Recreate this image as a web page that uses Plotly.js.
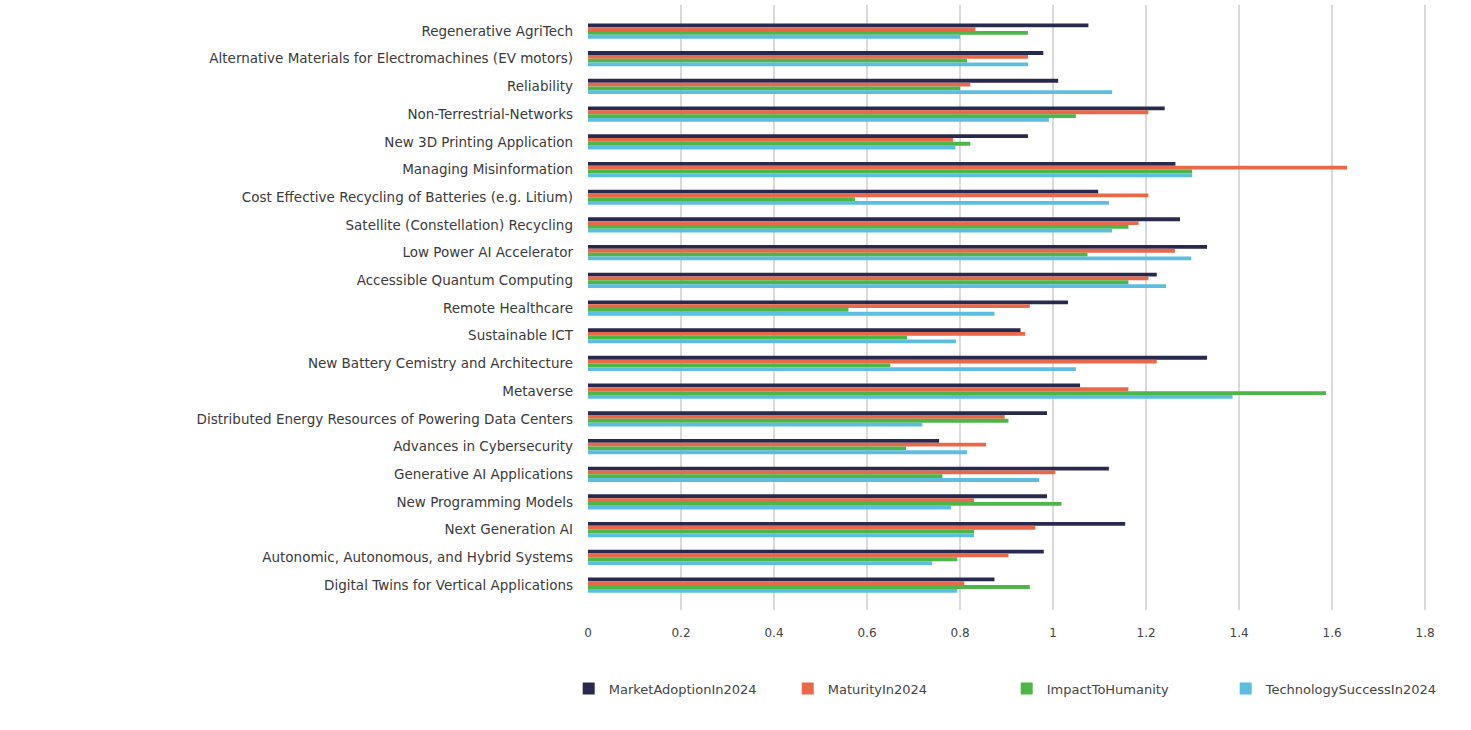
<!DOCTYPE html>
<html>
<head>
<meta charset="utf-8">
<script src="https://cdn.plot.ly/plotly-3.0.1.min.js"></script>
<style>
  html, body { margin: 0; padding: 0; background: #ffffff; }
  #chart { width: 1471px; height: 730px; }
</style>
</head>
<body>
<div id="chart"></div>
<script>
// Technology topics, listed top to bottom
const categories = [
  "Regenerative AgriTech",
  "Alternative Materials for Electromachines (EV motors)",
  "Reliability",
  "Non-Terrestrial-Networks",
  "New 3D Printing Application",
  "Managing Misinformation",
  "Cost Effective Recycling of Batteries (e.g. Litium)",
  "Satellite (Constellation) Recycling",
  "Low Power AI Accelerator",
  "Accessible Quantum Computing",
  "Remote Healthcare",
  "Sustainable ICT",
  "New Battery Cemistry and Architecture",
  "Metaverse",
  "Distributed Energy Resources of Powering Data Centers",
  "Advances in Cybersecurity",
  "Generative AI Applications",
  "New Programming Models",
  "Next Generation AI",
  "Autonomic, Autonomous, and Hybrid Systems",
  "Digital Twins for Vertical Applications"
];

const marketAdoption = [1.076, 0.979, 1.011, 1.240, 0.946, 1.263, 1.097, 1.273, 1.331, 1.223, 1.032, 0.930, 1.331, 1.058, 0.987, 0.755, 1.120, 0.987, 1.155, 0.980, 0.874];
const maturity       = [0.833, 0.946, 0.822, 1.205, 0.785, 1.632, 1.205, 1.184, 1.262, 1.205, 0.950, 0.940, 1.223, 1.162, 0.896, 0.856, 1.005, 0.830, 0.962, 0.904, 0.809];
const impact         = [0.946, 0.815, 0.800, 1.049, 0.822, 1.299, 0.574, 1.162, 1.074, 1.162, 0.560, 0.686, 0.650, 1.587, 0.904, 0.684, 0.762, 1.018, 0.830, 0.794, 0.950];
const techSuccess    = [0.800, 0.946, 1.127, 0.991, 0.790, 1.299, 1.120, 1.127, 1.297, 1.243, 0.874, 0.791, 1.049, 1.386, 0.719, 0.815, 0.970, 0.781, 0.830, 0.740, 0.794];

const seriesNames = ["MarketAdoptionIn2024", "MaturityIn2024", "ImpactToHumanity", "TechnologySuccessIn2024"];
const seriesValues = [marketAdoption, maturity, impact, techSuccess];
const seriesColors = ["#28294f", "#e8694a", "#4cb648", "#5cbde0"];

const xTicks = [0, 0.2, 0.4, 0.6, 0.8, 1, 1.2, 1.4, 1.6, 1.8];

const fontFamily = "'DejaVu Sans', 'Open Sans', sans-serif";

const traces = seriesNames.map((name, i) => ({
  type: "bar",
  orientation: "h",
  name: name,
  y: categories,
  x: seriesValues[i],
  marker: { color: seriesColors[i] },
  hoverinfo: "x+y+name"
}));

const layout = {
  width: 1471,
  height: 730,
  paper_bgcolor: "#ffffff",
  plot_bgcolor: "#ffffff",
  margin: { l: 588, r: 44, t: 5, b: 120 },
  barmode: "group",
  bargap: 0.45,
  bargroupgap: 0,
  font: { family: fontFamily, color: "#3a3a3a", size: 13 },
  xaxis: {
    range: [0, 1.804],
    tickvals: xTicks,
    ticktext: xTicks.map(v => String(v)),
    showgrid: true,
    gridcolor: "#d9d9d9",
    gridwidth: 1.5,
    zeroline: false,
    showline: false,
    ticks: "",
    ticklabelstandoff: 14,
    tickfont: { family: fontFamily, size: 12, color: "#444444" }
  },
  yaxis: {
    type: "category",
    categoryorder: "array",
    categoryarray: categories,
    range: [20.9, -0.94],
    showgrid: false,
    zeroline: false,
    showline: false,
    ticks: "",
    ticklabelstandoff: 14,
    tickfont: { family: fontFamily, size: 13.5, color: "#3a3a3a" }
  },
  showlegend: true,
  legend: {
    orientation: "h",
    x: -0.023,
    xanchor: "left",
    y: -0.13,
    yanchor: "middle",
    entrywidth: 174,
    entrywidthmode: "pixels",
    traceorder: "normal",
    font: { family: fontFamily, size: 13, color: "#444444" },
    itemclick: false,
    itemdoubleclick: false
  }
};

Plotly.newPlot("chart", traces, layout, { displayModeBar: false, responsive: false });
</script>
</body>
</html>
